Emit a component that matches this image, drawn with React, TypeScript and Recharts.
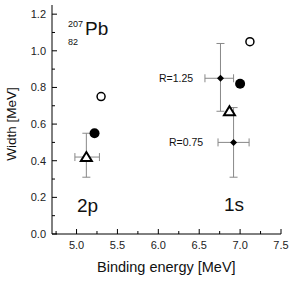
import { ScatterChart, Scatter, XAxis, YAxis, ErrorBar } from "recharts"

const xTicks = [4.75, 5.0, 5.25, 5.5, 5.75, 6.0, 6.25, 6.5, 6.75, 7.0, 7.25, 7.5]
const yTicks = [0, 0.1, 0.2, 0.3, 0.4, 0.5, 0.6, 0.7, 0.8, 0.9, 1.0, 1.1, 1.2]

const openCircles = [
  { x: 5.3, y: 0.75 },
  { x: 7.12, y: 1.05 },
]
const filledCircles = [
  { x: 5.22, y: 0.55 },
  { x: 7.0, y: 0.82 },
]
const trianglesErr = [{ x: 5.12, y: 0.42, ex: [0.14, 0.16], ey: [0.11, 0.13] }]
const triangles = [{ x: 6.87, y: 0.67 }]
const diamonds = [
  { x: 6.76, y: 0.85, ex: [0.19, 0.16], ey: [0.18, 0.19] },
  { x: 6.92, y: 0.5, ex: [0.19, 0.19], ey: [0.19, 0.19] },
]

const font = "'Liberation Sans', Arial, sans-serif"
const isMajor = (v: number, step: number) => Math.abs(v / step - Math.round(v / step)) < 1e-6

const BottomTick = ({ x, y, payload }: any) => {
  const major = isMajor(payload.value, 0.5)
  return (
    <g>
      <line x1={x} x2={x} y1={y} y2={y - (major ? 5 : 3)} stroke="#000" />
      {major && (
        <text x={x} y={y + 15} textAnchor="middle" fontSize={11} fill="#222" fontFamily={font}>
          {payload.value.toFixed(1)}
        </text>
      )}
    </g>
  )
}
const TopTick = ({ x, y, payload }: any) => {
  const major = isMajor(payload.value, 0.5)
  return <line x1={x} x2={x} y1={y} y2={y + (major ? 5 : 3)} stroke="#000" />
}
const LeftTick = ({ x, y, payload }: any) => {
  const major = isMajor(payload.value, 0.2)
  return (
    <g>
      <line x1={x} x2={x + (major ? 5 : 3)} y1={y} y2={y} stroke="#000" />
      {major && (
        <text x={x - 6} y={y + 4} textAnchor="end" fontSize={11} fill="#222" fontFamily={font}>
          {payload.value.toFixed(1)}
        </text>
      )}
    </g>
  )
}
const RightTick = ({ x, y, payload }: any) => {
  const major = isMajor(payload.value, 0.2)
  return <line x1={x} x2={x - (major ? 5 : 3)} y1={y} y2={y} stroke="#000" />
}

const OpenCircle = ({ cx, cy }: any) => <circle cx={cx} cy={cy} r={4} fill="#fff" stroke="#000" strokeWidth={1.5} />
const FilledCircle = ({ cx, cy }: any) => <circle cx={cx} cy={cy} r={5} fill="#000" />
const Triangle = ({ cx, cy }: any) => (
  <path d={`M${cx},${cy - 5} L${cx + 5.5},${cy + 4} L${cx - 5.5},${cy + 4} Z`} fill="#fff" stroke="#000" strokeWidth={2} strokeLinejoin="miter" />
)
const Diamond = ({ cx, cy }: any) => (
  <path d={`M${cx},${cy - 3.5} L${cx + 3.5},${cy} L${cx},${cy + 3.5} L${cx - 3.5},${cy} Z`} fill="#000" />
)

const label = (text: string, left: number, top: number, size: number, extra: any = {}) => (
  <div style={{ position: "absolute", left, top, fontSize: size, fontFamily: font, color: "#111", lineHeight: 1, whiteSpace: "nowrap", ...extra }}>
    {text}
  </div>
)

export default function App() {
  return (
    <div style={{ position: "fixed", left: 0, top: 0, width: 294, height: 281, background: "#fff" }}>
      <ScatterChart width={294} height={281} margin={{ top: 5, right: 13, bottom: 0, left: 0 }}>
        <XAxis type="number" dataKey="x" domain={[4.7, 7.5]} ticks={xTicks} height={47} tickSize={0} tickMargin={0} tick={<BottomTick />} stroke="#000" interval={0} allowDataOverflow />
        <XAxis xAxisId="t" orientation="top" type="number" dataKey="x" domain={[4.7, 7.5]} ticks={xTicks} height={0} tickSize={0} tickMargin={0} tick={<TopTick />} stroke="#000" interval={0} allowDataOverflow />
        <YAxis type="number" dataKey="y" domain={[0, 1.25]} ticks={yTicks} width={52} tickSize={0} tickMargin={0} tick={<LeftTick />} stroke="#000" interval={0} allowDataOverflow />
        <YAxis yAxisId="r" orientation="right" type="number" dataKey="y" domain={[0, 1.25]} ticks={yTicks} width={0} tickSize={0} tickMargin={0} tick={<RightTick />} stroke="#000" interval={0} allowDataOverflow />
        <Scatter data={diamonds} shape={<Diamond />} isAnimationActive={false}>
          <ErrorBar dataKey="ex" direction="x" width={4} stroke="#888" strokeWidth={1} />
          <ErrorBar dataKey="ey" direction="y" width={4} stroke="#888" strokeWidth={1} />
        </Scatter>
        <Scatter data={trianglesErr} shape={<Triangle />} isAnimationActive={false}>
          <ErrorBar dataKey="ex" direction="x" width={4} stroke="#888" strokeWidth={1} />
          <ErrorBar dataKey="ey" direction="y" width={4} stroke="#888" strokeWidth={1} />
        </Scatter>
        <Scatter data={triangles} shape={<Triangle />} isAnimationActive={false} />
        <Scatter data={openCircles} shape={<OpenCircle />} isAnimationActive={false} />
        <Scatter data={filledCircles} shape={<FilledCircle />} isAnimationActive={false} />
      </ScatterChart>
      {label("207", 68, 20, 9)}
      {label("Pb", 85, 19, 19)}
      {label("82", 68, 38, 9)}
      {label("R=1.25", 159, 73, 10.5)}
      {label("R=0.75", 169, 137, 10.5)}
      {label("2p", 77, 196, 19)}
      {label("1s", 224, 195, 19)}
      {label("Binding energy [MeV]", 97, 260, 14.5)}
      <div style={{ position: "absolute", left: 12, top: 124, fontSize: 13.5, fontFamily: font, color: "#111", lineHeight: 1, whiteSpace: "nowrap", transform: "translate(-50%, -50%) rotate(-90deg)" }}>
        Width [MeV]
      </div>
    </div>
  )
}
